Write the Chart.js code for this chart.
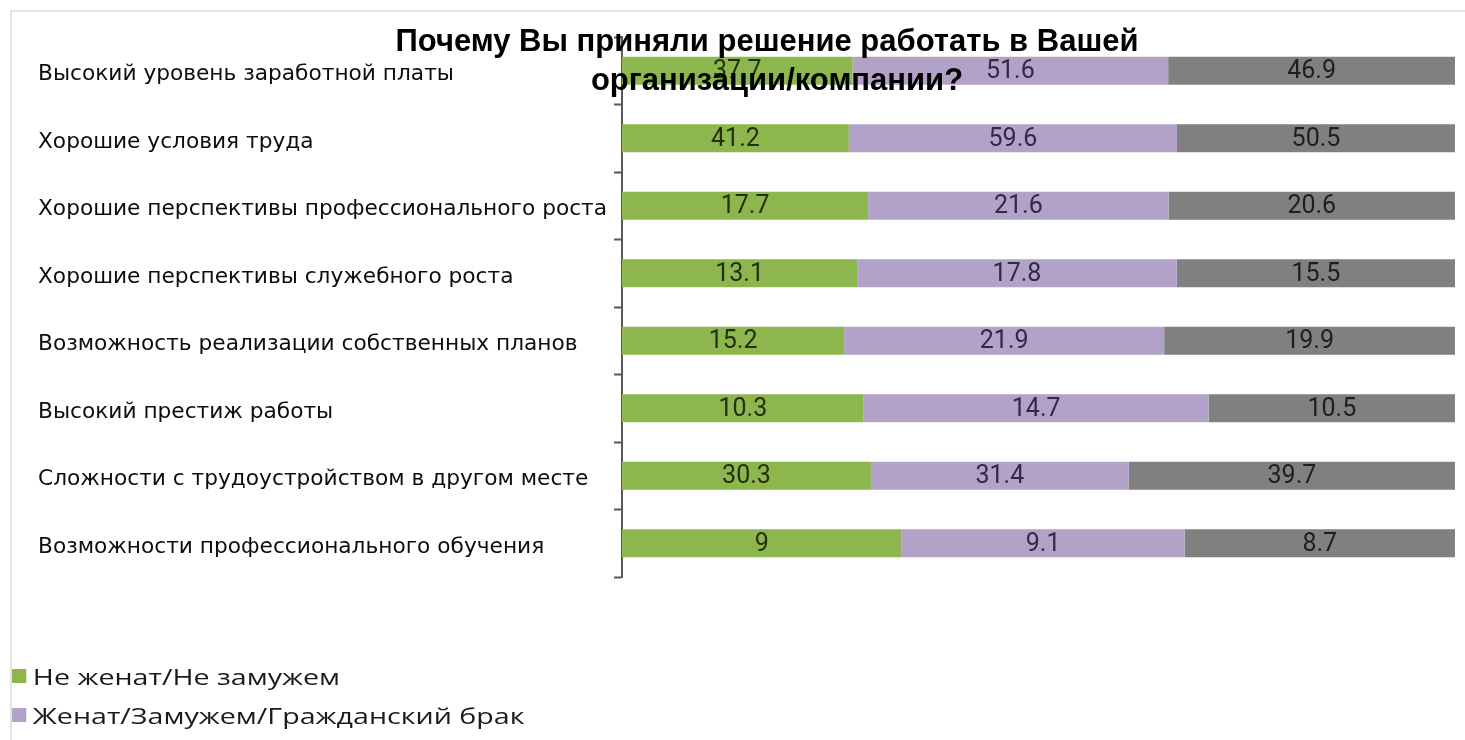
<!DOCTYPE html>
<html lang="ru">
<head>
<meta charset="utf-8">
<title>Почему Вы приняли решение работать в Вашей организации/компании?</title>
<script src="https://cdn.jsdelivr.net/npm/chart.js@4.4.1/dist/chart.umd.min.js"></script>
<style>
    html, body { margin: 0; padding: 0; background: #fff; overflow: hidden; }
    #quadro { position: relative; width: 1465px; height: 740px; overflow: hidden; }
    #moldura { position: absolute; left: 10px; top: 10px; right: 0; bottom: 0; border-top: 2px solid #e2e2e2; border-left: 2px solid #e2e2e2; }
    #grafico { position: absolute; left: 0; top: 0; }
    #legenda { position: absolute; left: 12px; top: 656px; transform-origin: 0 0; transform: scaleX(1.3);
               font-family: 'Open Sans', sans-serif; font-size: 22px; color: #1a1a1a; }
    .item { display: flex; align-items: center; height: 39px; white-space: nowrap; }
    .caixa { width: 11px; height: 14px; margin-right: 5px; }
</style>
</head>
<body>
<div id="quadro">
    <div id="moldura"></div>
    <canvas id="grafico" width="1465" height="740"></canvas>
    <div id="legenda"></div>
</div>
<script>
'use strict';

const categorias = [
    'Высокий уровень заработной платы',
    'Хорошие условия труда',
    'Хорошие перспективы профессионального роста',
    'Хорошие перспективы служебного роста',
    'Возможность реализации собственных планов',
    'Высокий престиж работы',
    'Сложности с трудоустройством в другом месте',
    'Возможности профессионального обучения'
];
const naoCasados = [37.7, 41.2, 17.7, 13.1, 15.2, 10.3, 30.3, 9];
const casados = [51.6, 59.6, 21.6, 17.8, 21.9, 14.7, 31.4, 9.1];
const divorciados = [46.9, 50.5, 20.6, 15.5, 19.9, 10.5, 39.7, 8.7];
const nomesSeries = ['Не женат/Не замужем', 'Женат/Замужем/Гражданский брак', 'Разведен(а)/Вдовец(вдова)'];
const linhasTitulo = ['Почему Вы приняли решение работать в Вашей', 'организации/компании?'];

// cada linha soma 100% (barra empilhada normalizada)
const totais = categorias.map((c, i) => naoCasados[i] + casados[i] + divorciados[i]);
function paraPercentual(serie) {
    return serie.map((v, i) => v / totais[i] * 100);
}

const rotulosDentro = {
    id: 'rotulosDentro',
    afterDatasetsDraw(chart) {
        const ctx = chart.ctx;
        ctx.save();
        ctx.font = '400 25px Roboto, sans-serif';
        ctx.textAlign = 'center';
        ctx.textBaseline = 'middle';
        chart.data.datasets.forEach((ds, i) => {
            const meta = chart.getDatasetMeta(i);
            meta.data.forEach((barra, j) => {
                const p = barra.getProps(['x', 'base', 'y'], true);
                ctx.fillStyle = ds.corTexto;
                ctx.fillText(String(ds.valores[j]), (p.x + p.base) / 2, p.y + 1);
            });
        });
        ctx.restore();
    }
};

const titulo = {
    id: 'titulo',
    afterDraw(chart) {
        const ctx = chart.ctx;
        ctx.save();
        ctx.font = 'bold 31px "Liberation Sans", Arial, sans-serif';
        ctx.fillStyle = '#000';
        ctx.textAlign = 'center';
        ctx.fillText(linhasTitulo[0], 767, 51);
        ctx.fillText(linhasTitulo[1], 777, 90);
        ctx.restore();
    }
};

const grafico = new Chart(document.getElementById('grafico'), {
    type: 'bar',
    data: {
        labels: categorias,
        datasets: [{
            label: nomesSeries[0],
            data: paraPercentual(naoCasados),
            valores: naoCasados,
            backgroundColor: '#8eb64f',
            corTexto: '#24300c'
        }, {
            label: nomesSeries[1],
            data: paraPercentual(casados),
            valores: casados,
            backgroundColor: '#b3a2c8',
            corTexto: '#342848'
        }, {
            label: nomesSeries[2],
            data: paraPercentual(divorciados),
            valores: divorciados,
            backgroundColor: '#808080',
            corTexto: '#1e1e1e'
        }]
    },
    options: {
        indexAxis: 'y',
        responsive: false,
        animation: false,
        devicePixelRatio: 1,
        categoryPercentage: 0.8,
        barPercentage: 0.52,
        layout: { padding: { left: 38, top: 37, right: 10, bottom: 163 } },
        plugins: {
            legend: { display: false },
            tooltip: { enabled: false }
        },
        scales: {
            x: { stacked: true, min: 0, max: 100, display: false },
            y: {
                stacked: true,
                border: { display: true, color: '#595959', width: 2 },
                grid: { drawOnChartArea: false, drawTicks: true, tickLength: 8, tickColor: '#595959', tickWidth: 2 },
                ticks: { crossAlign: 'far', labelOffset: 4, color: '#0d0d0d', font: { family: 'DejaVu Sans', size: 21.7 } },
                afterFit(scale) { scale.width = 584; }
            }
        }
    },
    plugins: [rotulosDentro, titulo]
});

// legenda montada a partir dos datasets
const legenda = document.getElementById('legenda');
grafico.data.datasets.forEach(ds => {
    const item = document.createElement('div');
    item.className = 'item';
    const caixa = document.createElement('span');
    caixa.className = 'caixa';
    caixa.style.background = ds.backgroundColor;
    const texto = document.createElement('span');
    texto.textContent = ds.label;
    item.appendChild(caixa);
    item.appendChild(texto);
    legenda.appendChild(item);
});
</script>
</body>
</html>
